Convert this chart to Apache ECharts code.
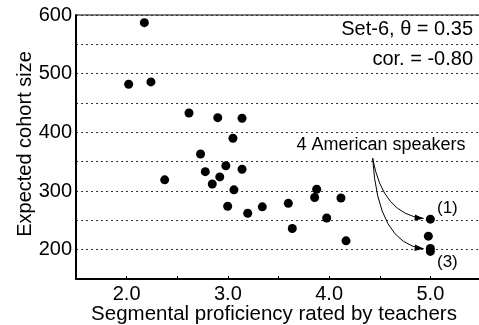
<!DOCTYPE html>
<html><head><meta charset="utf-8">
<script src="https://cdn.jsdelivr.net/npm/echarts@6/dist/echarts.min.js"></script>
<style>html,body{margin:0;padding:0;background:#fff}#c{width:479px;height:325px}</style>
</head><body><div id="c"></div>
<script>
// ---- data ----
const proficiency = [2.02, 2.175, 2.24, 2.376, 2.616, 2.73, 2.777, 2.846, 2.90, 2.92, 2.98, 2.998, 3.05, 3.06, 3.14, 3.14, 3.196, 3.34, 3.597, 3.636, 3.857, 3.877, 3.976, 4.117, 4.167, 5.0, 4.98, 5.0, 5.0];
const cohortSize  = [482, 587, 486, 319, 433, 363, 333, 312, 425, 324, 343, 274, 390, 302, 424, 337, 262, 273, 279, 236, 289, 303, 254, 288, 215, 252, 223, 202, 197];
const xTickLabels = ['2.0', '3.0', '4.0', '5.0'];
const yTickLabels = ['200', '300', '400', '500', '600'];
const xTitle = 'Segmental proficiency rated by teachers';
const yTitle = 'Expected cohort size';
const infoLines = ['Set-6, \u03B8 = 0.35', 'cor. = -0.80'];
const noteText = '4 American speakers';
const pointLabels = ['(1)', '(3)'];
const arrowTargets = [[5.0, 252], [5.0, 199.5]];   // highlighted American speakers
const noteAnchor = [4.512, 378];
const arrowStart = [4.43, 356];

const FONT = "'Liberation Sans', Arial, Helvetica, sans-serif";
const chart = echarts.init(document.getElementById('c'), null, {renderer: 'canvas'});

const option = {
  animation: false,
  backgroundColor: '#fff',
  grid: {left: 76, top: 15, right: -2, bottom: 46, containLabel: false, outerBoundsMode: 'none',
         show: true, borderColor: '#000', borderWidth: 1, backgroundColor: 'transparent'},
  xAxis: {
    type: 'value', min: 1.5, max: 5.5, interval: 0.5,
    axisLine: {show: true, lineStyle: {color: '#000', width: 2}},
    axisTick: {show: true, inside: true, length: 3, lineStyle: {color: '#000', width: 1}},
    splitLine: {show: false},
    axisLabel: {
      margin: 5, color: '#000', fontFamily: FONT, fontSize: 20,
      formatter: v => { const s = v.toFixed(1); return xTickLabels.includes(s) ? s : ''; }
    },
    name: xTitle, nameLocation: 'middle', nameGap: 25, nameMoveOverlap: false,
    nameTextStyle: {color: '#000', fontFamily: FONT, fontSize: 20.5, padding: [0, 9, 0, 0]}
  },
  yAxis: {
    type: 'value', min: 150, max: 600, interval: 50,
    axisLine: {show: true, lineStyle: {color: '#000', width: 2}},
    axisTick: {show: false},
    splitLine: {show: true, lineStyle: {color: '#333', width: 1, type: [2, 3]}},
    axisLabel: {
      margin: 4, color: '#000', fontFamily: FONT, fontSize: 20,
      formatter: v => { const s = String(v); return yTickLabels.includes(s) ? s : ''; }
    },
    name: yTitle, nameLocation: 'middle', nameGap: 41, nameMoveOverlap: false,
    nameTextStyle: {color: '#000', fontFamily: FONT, fontSize: 20, padding: [0, 0, 0, 6]}
  },
  series: [{
    type: 'scatter', symbol: 'circle', symbolSize: 9,
    itemStyle: {color: '#000', opacity: 1},
    data: proficiency.map((x, i) => [x, cohortSize[i]]),
    z: 5
  }]
};
chart.setOption(option);

function px(p) { return chart.convertToPixel({gridIndex: 0}, p); }

const graphics = [];
graphics.push({type: 'text', right: 6, top: 19, style: {text: infoLines[0], fill: '#000', font: '20px ' + FONT, textAlign: 'right'}, z: 10});
graphics.push({type: 'text', right: 6, top: 49, style: {text: infoLines[1], fill: '#000', font: '20px ' + FONT, textAlign: 'right'}, z: 10});

const na = px(noteAnchor);
graphics.push({type: 'text', x: na[0], y: na[1], style: {text: noteText, fill: '#000', font: '18px ' + FONT, textAlign: 'center', textVerticalAlign: 'middle'}, z: 10});

const s = px(arrowStart);
const ctrlOffsets = [[-41, -4], [-46, -5]];
const endOffsets = [[-6.7, -0.7], [-6.7, -1.2]];
const labelOffsets = [[17, -11], [17, 12]];
arrowTargets.forEach((t, i) => {
  const p = px(t);
  const e = [p[0] + endOffsets[i][0], p[1] + endOffsets[i][1]];
  const c = [e[0] + ctrlOffsets[i][0], e[1] + ctrlOffsets[i][1]];
  graphics.push({type: 'bezierCurve', shape: {x1: s[0], y1: s[1], x2: e[0], y2: e[1], cpx1: c[0], cpy1: c[1]}, style: {stroke: '#000', lineWidth: 1, fill: null}, z: 10});
  const ang = Math.atan2(e[1] - c[1], e[0] - c[0]);
  const L = 9, W = 3.2;
  const bx = e[0] - L * Math.cos(ang), by = e[1] - L * Math.sin(ang);
  const nx = -Math.sin(ang) * W, ny = Math.cos(ang) * W;
  graphics.push({type: 'polygon', shape: {points: [[e[0], e[1]], [bx + nx, by + ny], [bx - nx, by - ny]]}, style: {fill: '#000'}, z: 10});
  graphics.push({type: 'text', x: p[0] + labelOffsets[i][0], y: p[1] + labelOffsets[i][1], style: {text: pointLabels[i], fill: '#000', font: '17px ' + FONT, textAlign: 'center', textVerticalAlign: 'middle'}, z: 10});
});
chart.setOption({graphic: graphics});
</script>
</body></html>
